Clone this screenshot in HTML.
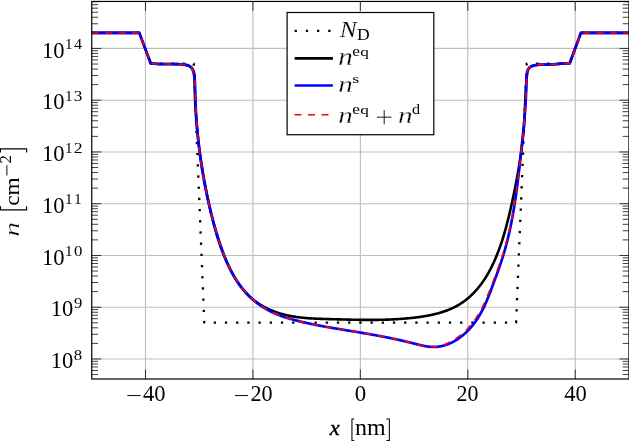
<!DOCTYPE html>
<html><head><meta charset="utf-8"><style>
html,body{margin:0;padding:0;background:#fff;width:629px;height:441px;overflow:hidden;}
svg{display:block;will-change:transform;font-family:"Liberation Serif",serif;}
</style></head><body>
<svg width="629" height="441" viewBox="0 0 629 441"><rect x="0" y="0" width="629" height="441" fill="#fff"/><path d="M145.47 1.45V379.00M252.91 1.45V379.00M360.35 1.45V379.00M467.79 1.45V379.00M575.23 1.45V379.00M91.75 358.98H628.95M91.75 307.22H628.95M91.75 255.47H628.95M91.75 203.71H628.95M91.75 151.95H628.95M91.75 100.20H628.95M91.75 48.44H628.95" stroke="#bfbfbf" stroke-width="1.15" fill="none"/><path d="M145.47 379.00v-9.5M145.47 1.45v9.5M252.91 379.00v-9.5M252.91 1.45v9.5M360.35 379.00v-9.5M360.35 1.45v9.5M467.79 379.00v-9.5M467.79 1.45v9.5M575.23 379.00v-9.5M575.23 1.45v9.5M91.75 374.56h6.3M628.95 374.56h-6.3M91.75 370.46h6.3M628.95 370.46h-6.3M91.75 367.00h6.3M628.95 367.00h-6.3M91.75 364.00h6.3M628.95 364.00h-6.3M91.75 361.35h6.3M628.95 361.35h-6.3M91.75 358.98h9.5M628.95 358.98h-9.5M91.75 343.40h6.3M628.95 343.40h-6.3M91.75 334.29h6.3M628.95 334.29h-6.3M91.75 327.82h6.3M628.95 327.82h-6.3M91.75 322.81h6.3M628.95 322.81h-6.3M91.75 318.71h6.3M628.95 318.71h-6.3M91.75 315.24h6.3M628.95 315.24h-6.3M91.75 312.24h6.3M628.95 312.24h-6.3M91.75 309.59h6.3M628.95 309.59h-6.3M91.75 307.22h9.5M628.95 307.22h-9.5M91.75 291.64h6.3M628.95 291.64h-6.3M91.75 282.53h6.3M628.95 282.53h-6.3M91.75 276.06h6.3M628.95 276.06h-6.3M91.75 271.05h6.3M628.95 271.05h-6.3M91.75 266.95h6.3M628.95 266.95h-6.3M91.75 263.49h6.3M628.95 263.49h-6.3M91.75 260.48h6.3M628.95 260.48h-6.3M91.75 257.84h6.3M628.95 257.84h-6.3M91.75 255.47h9.5M628.95 255.47h-9.5M91.75 239.89h6.3M628.95 239.89h-6.3M91.75 230.77h6.3M628.95 230.77h-6.3M91.75 224.31h6.3M628.95 224.31h-6.3M91.75 219.29h6.3M628.95 219.29h-6.3M91.75 215.19h6.3M628.95 215.19h-6.3M91.75 211.73h6.3M628.95 211.73h-6.3M91.75 208.73h6.3M628.95 208.73h-6.3M91.75 206.08h6.3M628.95 206.08h-6.3M91.75 203.71h9.5M628.95 203.71h-9.5M91.75 188.13h6.3M628.95 188.13h-6.3M91.75 179.02h6.3M628.95 179.02h-6.3M91.75 172.55h6.3M628.95 172.55h-6.3M91.75 167.53h6.3M628.95 167.53h-6.3M91.75 163.44h6.3M628.95 163.44h-6.3M91.75 159.97h6.3M628.95 159.97h-6.3M91.75 156.97h6.3M628.95 156.97h-6.3M91.75 154.32h6.3M628.95 154.32h-6.3M91.75 151.95h9.5M628.95 151.95h-9.5M91.75 136.37h6.3M628.95 136.37h-6.3M91.75 127.26h6.3M628.95 127.26h-6.3M91.75 120.79h6.3M628.95 120.79h-6.3M91.75 115.78h6.3M628.95 115.78h-6.3M91.75 111.68h6.3M628.95 111.68h-6.3M91.75 108.21h6.3M628.95 108.21h-6.3M91.75 105.21h6.3M628.95 105.21h-6.3M91.75 102.57h6.3M628.95 102.57h-6.3M91.75 100.20h9.5M628.95 100.20h-9.5M91.75 84.62h6.3M628.95 84.62h-6.3M91.75 75.50h6.3M628.95 75.50h-6.3M91.75 69.04h6.3M628.95 69.04h-6.3M91.75 64.02h6.3M628.95 64.02h-6.3M91.75 59.92h6.3M628.95 59.92h-6.3M91.75 56.46h6.3M628.95 56.46h-6.3M91.75 53.46h6.3M628.95 53.46h-6.3M91.75 50.81h6.3M628.95 50.81h-6.3M91.75 48.44h9.5M628.95 48.44h-9.5M91.75 32.86h6.3M628.95 32.86h-6.3M91.75 23.75h6.3M628.95 23.75h-6.3M91.75 17.28h6.3M628.95 17.28h-6.3M91.75 12.26h6.3M628.95 12.26h-6.3M91.75 8.17h6.3M628.95 8.17h-6.3M91.75 4.70h6.3M628.95 4.70h-6.3M91.75 1.70h6.3M628.95 1.70h-6.3" stroke="#000" stroke-width="0.75" fill="none"/><path d="M91.75 32.90L139.30 32.90L150.70 63.60L193.70 63.60L204.30 322.70L516.10 322.70L526.70 63.60L569.70 63.60L581.10 32.90L628.95 32.90" stroke="#000" stroke-width="2.3" fill="none" stroke-dasharray="2.3 8.9" stroke-dashoffset="0" stroke-linejoin="round"/><path d="M91.75 32.90L139.30 32.90L150.70 63.30L151.51 63.35L152.31 63.45L153.11 63.54L153.91 63.63L154.70 63.70L155.50 63.76L156.30 63.82L157.09 63.87L157.89 63.91L158.68 63.95L159.48 63.98L160.27 64.00L161.07 64.02L161.86 64.04L162.66 64.05L163.45 64.06L164.25 64.06L165.05 64.06L165.84 64.06L166.64 64.06L167.44 64.06L168.23 64.06L169.03 64.06L169.83 64.06L170.63 64.06L171.43 64.06L172.24 64.06L173.04 64.07L173.84 64.08L174.65 64.09L175.46 64.11L176.27 64.13L177.08 64.16L177.89 64.19L178.70 64.23L179.51 64.28L180.33 64.33L181.15 64.40L181.97 64.47L182.79 64.55L183.62 64.64L184.44 64.74L185.25 64.86L186.05 65.01L186.84 65.19L187.60 65.40L188.33 65.66L189.04 65.96L189.71 66.31L190.33 66.72L190.92 67.18L191.46 67.70L191.95 68.26L192.40 68.87L192.80 69.50L193.16 70.17L193.47 70.87L193.74 71.59L193.96 72.32L194.13 73.07L194.27 73.83L194.38 74.60L194.46 75.38L194.52 76.17L194.55 76.97L194.57 77.77L194.59 78.58L194.59 79.39L194.60 80.20L194.60 81.01L194.61 81.82L194.62 82.62L194.63 83.43L194.64 84.24L194.65 85.05L194.67 85.86L194.68 86.66L194.70 87.47L194.72 88.28L194.73 89.09L194.75 89.89L194.78 90.70L194.80 91.51L194.82 92.31L194.85 93.12L194.87 93.92L194.90 94.73L194.93 95.54L194.95 96.34L194.98 97.15L195.02 97.95L195.05 98.76L195.08 99.56L195.12 100.36L195.15 101.17L195.19 101.97L195.23 102.78L195.27 103.58L195.31 104.38L195.35 105.19L195.39 105.99L195.44 106.79L195.48 107.59L195.53 108.40L195.58 109.20L195.63 110.00L195.68 110.80L195.73 111.60L195.78 112.40L195.83 113.21L195.89 114.01L195.94 114.81L196.00 115.61L196.06 116.41L196.12 117.21L196.18 118.01L196.24 118.81L196.30 119.61L196.36 120.41L196.43 121.21L196.49 122.01L196.56 122.80L196.63 123.60L196.70 124.40L196.77 125.20L196.84 126.00L196.91 126.80L196.99 127.59L197.06 128.39L197.14 129.19L197.21 129.99L197.29 130.78L197.37 131.58L197.45 132.38L197.53 133.17L197.61 133.97L197.69 134.76L197.78 135.56L197.86 136.36L197.95 137.15L198.04 137.95L198.13 138.74L198.22 139.54L198.31 140.33L198.40 141.13L198.49 141.92L198.59 142.71L198.68 143.51L198.78 144.30L198.87 145.09L198.97 145.89L199.07 146.68L199.17 147.47L199.27 148.27L199.38 149.06L199.48 149.85L199.58 150.64L199.69 151.44L199.80 152.23L199.90 153.02L200.01 153.81L200.12 154.60L200.23 155.39L200.34 156.18L200.46 156.98L200.57 157.77L200.68 158.56L200.80 159.35L200.92 160.14L201.04 160.93L201.15 161.72L201.27 162.51L201.39 163.30L201.52 164.08L201.64 164.87L201.76 165.66L201.89 166.45L202.01 167.24L202.14 168.03L202.27 168.82L202.40 169.60L202.53 170.39L202.66 171.18L202.79 171.97L202.92 172.75L203.06 173.54L203.19 174.33L203.33 175.11L203.46 175.90L203.60 176.69L203.74 177.47L203.88 178.26L204.02 179.05L204.16 179.83L204.31 180.62L204.45 181.40L204.59 182.19L204.74 182.97L204.89 183.76L205.03 184.54L205.18 185.33L205.33 186.11L205.48 186.89L205.63 187.68L205.78 188.46L205.94 189.24L206.09 190.03L206.25 190.81L206.40 191.59L206.56 192.38L206.72 193.16L206.88 193.94L207.04 194.72L207.20 195.51L207.36 196.29L207.52 197.07L207.68 197.85L207.85 198.63L208.01 199.41L208.18 200.20L208.35 200.98L208.51 201.76L208.68 202.54L208.85 203.32L209.02 204.10L209.20 204.88L209.37 205.66L209.54 206.44L209.72 207.22L209.89 208.00L210.07 208.78L210.24 209.56L210.42 210.34L210.60 211.11L210.78 211.89L210.96 212.67L211.15 213.45L211.33 214.23L211.51 215.00L211.70 215.78L211.89 216.56L212.08 217.33L212.27 218.11L212.46 218.89L212.65 219.66L212.84 220.44L213.04 221.21L213.24 221.99L213.43 222.76L213.63 223.53L213.84 224.31L214.04 225.08L214.24 225.85L214.45 226.62L214.66 227.39L214.87 228.16L215.08 228.93L215.30 229.70L215.51 230.47L215.73 231.24L215.95 232.01L216.17 232.77L216.40 233.54L216.62 234.30L216.85 235.07L217.08 235.83L217.31 236.60L217.55 237.36L217.78 238.12L218.02 238.88L218.26 239.64L218.51 240.40L218.75 241.16L219.00 241.92L219.25 242.68L219.51 243.43L219.76 244.19L220.02 244.94L220.28 245.70L220.55 246.45L220.82 247.20L221.09 247.96L221.36 248.71L221.63 249.46L221.91 250.20L222.19 250.95L222.47 251.70L222.76 252.44L223.05 253.19L223.34 253.93L223.64 254.67L223.94 255.42L224.24 256.16L224.54 256.90L224.85 257.63L225.16 258.37L225.48 259.11L225.80 259.84L226.12 260.57L226.44 261.31L226.77 262.04L227.10 262.77L227.44 263.50L227.77 264.23L228.12 264.95L228.46 265.68L228.81 266.40L229.16 267.12L229.52 267.84L229.88 268.56L230.24 269.28L230.61 270.00L230.98 270.72L231.36 271.43L231.74 272.14L232.12 272.85L232.51 273.56L232.90 274.27L233.29 274.98L233.69 275.68L234.10 276.38L234.51 277.08L234.92 277.77L235.34 278.46L235.76 279.15L236.19 279.84L236.62 280.52L237.05 281.20L237.50 281.87L237.94 282.54L238.39 283.21L238.85 283.87L239.31 284.53L239.78 285.19L240.25 285.84L240.72 286.48L241.21 287.13L241.69 287.76L242.19 288.39L242.69 289.02L243.19 289.64L243.70 290.25L244.21 290.86L244.74 291.47L245.26 292.06L245.80 292.65L246.34 293.24L246.88 293.82L247.43 294.39L247.99 294.96L248.55 295.52L249.12 296.07L249.70 296.61L250.28 297.15L250.87 297.68L251.47 298.20L252.07 298.72L252.68 299.23L253.29 299.73L253.91 300.22L254.54 300.71L255.17 301.18L255.81 301.66L256.45 302.12L257.10 302.58L257.75 303.03L258.41 303.47L259.08 303.90L259.75 304.33L260.42 304.75L261.10 305.16L261.78 305.57L262.47 305.97L263.17 306.36L263.86 306.75L264.56 307.12L265.27 307.50L265.98 307.86L266.69 308.22L267.41 308.57L268.13 308.91L268.85 309.24L269.58 309.57L270.31 309.90L271.04 310.21L271.78 310.52L272.52 310.82L273.26 311.11L274.01 311.40L274.76 311.68L275.51 311.96L276.26 312.22L277.01 312.48L277.77 312.74L278.53 312.98L279.29 313.22L280.05 313.46L280.82 313.69L281.58 313.91L282.35 314.12L283.12 314.33L283.89 314.53L284.66 314.72L285.44 314.91L286.21 315.09L286.99 315.27L287.77 315.44L288.55 315.61L289.33 315.77L290.11 315.92L290.89 316.07L291.68 316.22L292.46 316.35L293.25 316.49L294.04 316.62L294.82 316.74L295.61 316.86L296.41 316.98L297.20 317.09L297.99 317.19L298.78 317.29L299.58 317.39L300.37 317.49L301.17 317.58L301.96 317.66L302.76 317.75L303.56 317.82L304.36 317.90L305.16 317.97L305.96 318.04L306.76 318.11L307.56 318.17L308.36 318.23L309.17 318.29L309.97 318.34L310.77 318.39L311.58 318.44L312.38 318.49L313.18 318.53L313.99 318.57L314.79 318.61L315.60 318.65L316.40 318.69L317.21 318.72L318.02 318.76L318.82 318.79L319.63 318.82L320.43 318.85L321.24 318.88L322.05 318.90L322.85 318.93L323.66 318.95L324.46 318.98L325.27 319.00L326.07 319.02L326.88 319.05L327.68 319.07L328.49 319.09L329.29 319.11L330.10 319.13L330.90 319.16L331.70 319.18L332.51 319.20L333.31 319.22L334.11 319.25L334.91 319.27L335.72 319.29L336.52 319.31L337.32 319.33L338.12 319.36L338.92 319.38L339.72 319.40L340.52 319.42L341.32 319.44L342.12 319.47L342.92 319.49L343.72 319.51L344.52 319.53L345.31 319.55L346.11 319.57L346.91 319.59L347.71 319.61L348.51 319.63L349.30 319.65L350.10 319.66L350.90 319.68L351.69 319.70L352.49 319.71L353.29 319.73L354.08 319.75L354.88 319.76L355.68 319.78L356.47 319.79L357.27 319.80L358.06 319.82L358.86 319.83L359.65 319.84L360.45 319.85L361.24 319.86L362.04 319.87L362.83 319.88L363.63 319.88L364.42 319.89L365.22 319.90L366.01 319.90L366.81 319.90L367.60 319.91L368.40 319.91L369.19 319.91L369.99 319.91L370.78 319.91L371.58 319.91L372.37 319.90L373.16 319.90L373.96 319.89L374.75 319.89L375.55 319.88L376.34 319.87L377.14 319.86L377.93 319.85L378.73 319.84L379.52 319.82L380.32 319.81L381.11 319.79L381.91 319.77L382.70 319.75L383.50 319.73L384.29 319.71L385.09 319.69L385.88 319.66L386.68 319.64L387.48 319.61L388.27 319.58L389.07 319.55L389.86 319.51L390.66 319.48L391.46 319.44L392.25 319.41L393.05 319.37L393.85 319.33L394.65 319.28L395.44 319.24L396.24 319.19L397.04 319.14L397.84 319.10L398.64 319.04L399.44 318.99L400.23 318.93L401.03 318.88L401.83 318.82L402.63 318.76L403.43 318.69L404.23 318.63L405.03 318.56L405.83 318.49L406.64 318.42L407.44 318.35L408.24 318.27L409.04 318.20L409.84 318.12L410.65 318.03L411.45 317.95L412.25 317.86L413.06 317.78L413.86 317.68L414.67 317.59L415.47 317.50L416.28 317.40L417.08 317.30L417.88 317.19L418.69 317.09L419.49 316.98L420.30 316.86L421.10 316.75L421.90 316.63L422.71 316.50L423.51 316.38L424.31 316.25L425.11 316.11L425.91 315.98L426.70 315.84L427.50 315.69L428.30 315.54L429.09 315.39L429.89 315.23L430.68 315.07L431.47 314.90L432.26 314.73L433.05 314.55L433.83 314.37L434.61 314.19L435.40 314.00L436.18 313.80L436.95 313.60L437.73 313.40L438.50 313.19L439.28 312.97L440.04 312.75L440.81 312.52L441.57 312.28L442.34 312.04L443.10 311.80L443.85 311.55L444.60 311.29L445.35 311.03L446.10 310.76L446.85 310.48L447.59 310.20L448.32 309.91L449.06 309.61L449.79 309.31L450.52 309.00L451.24 308.68L451.96 308.35L452.68 308.02L453.39 307.68L454.10 307.34L454.80 306.98L455.50 306.62L456.20 306.25L456.89 305.87L457.58 305.49L458.26 305.10L458.94 304.69L459.62 304.29L460.29 303.87L460.95 303.44L461.61 303.01L462.27 302.57L462.92 302.12L463.56 301.66L464.21 301.19L464.84 300.72L465.47 300.24L466.10 299.75L466.72 299.25L467.34 298.75L467.95 298.24L468.56 297.73L469.16 297.20L469.75 296.67L470.35 296.14L470.93 295.60L471.51 295.05L472.09 294.49L472.66 293.93L473.23 293.36L473.79 292.79L474.34 292.21L474.89 291.63L475.44 291.04L475.97 290.45L476.51 289.85L477.04 289.24L477.56 288.63L478.08 288.02L478.59 287.40L479.09 286.77L479.59 286.15L480.09 285.51L480.58 284.88L481.06 284.23L481.54 283.59L482.01 282.94L482.48 282.29L482.94 281.63L483.40 280.97L483.85 280.30L484.30 279.63L484.74 278.96L485.17 278.29L485.61 277.61L486.03 276.93L486.45 276.24L486.87 275.55L487.28 274.86L487.69 274.17L488.09 273.47L488.49 272.77L488.88 272.07L489.27 271.36L489.65 270.66L490.03 269.94L490.40 269.23L490.77 268.52L491.14 267.80L491.50 267.08L491.86 266.36L492.21 265.63L492.56 264.91L492.91 264.18L493.25 263.45L493.59 262.72L493.92 261.99L494.26 261.25L494.58 260.52L494.91 259.78L495.23 259.04L495.54 258.30L495.85 257.56L496.16 256.82L496.47 256.07L496.77 255.33L497.07 254.58L497.37 253.84L497.66 253.09L497.95 252.34L498.24 251.60L498.52 250.85L498.80 250.10L499.08 249.35L499.36 248.60L499.63 247.85L499.90 247.09L500.17 246.34L500.43 245.59L500.69 244.83L500.95 244.08L501.21 243.32L501.46 242.56L501.71 241.81L501.96 241.05L502.21 240.29L502.45 239.53L502.69 238.77L502.93 238.01L503.16 237.25L503.40 236.49L503.63 235.73L503.86 234.96L504.09 234.20L504.31 233.44L504.54 232.67L504.76 231.91L504.98 231.14L505.19 230.37L505.41 229.61L505.62 228.84L505.83 228.07L506.04 227.30L506.25 226.54L506.46 225.77L506.66 225.00L506.86 224.23L507.07 223.46L507.26 222.68L507.46 221.91L507.66 221.14L507.85 220.37L508.05 219.60L508.24 218.82L508.43 218.05L508.62 217.27L508.81 216.50L508.99 215.72L509.18 214.95L509.36 214.17L509.55 213.40L509.73 212.62L509.91 211.84L510.09 211.07L510.27 210.29L510.45 209.51L510.63 208.73L510.80 207.95L510.98 207.18L511.15 206.40L511.33 205.62L511.50 204.84L511.67 204.06L511.84 203.28L512.02 202.50L512.19 201.72L512.36 200.93L512.52 200.15L512.69 199.37L512.86 198.59L513.03 197.81L513.19 197.03L513.36 196.24L513.53 195.46L513.69 194.68L513.85 193.89L514.02 193.11L514.18 192.33L514.34 191.54L514.50 190.76L514.66 189.97L514.82 189.19L514.97 188.40L515.13 187.62L515.29 186.83L515.44 186.05L515.60 185.26L515.75 184.47L515.90 183.69L516.05 182.90L516.21 182.11L516.35 181.33L516.50 180.54L516.65 179.75L516.80 178.97L516.94 178.18L517.09 177.39L517.23 176.60L517.38 175.81L517.52 175.02L517.66 174.23L517.80 173.45L517.94 172.66L518.08 171.87L518.21 171.08L518.35 170.29L518.49 169.50L518.62 168.71L518.75 167.92L518.88 167.13L519.01 166.34L519.14 165.54L519.27 164.75L519.40 163.96L519.52 163.17L519.65 162.38L519.77 161.59L519.90 160.80L520.02 160.00L520.14 159.21L520.26 158.42L520.37 157.63L520.49 156.83L520.61 156.04L520.72 155.25L520.83 154.46L520.95 153.66L521.06 152.87L521.16 152.08L521.27 151.28L521.38 150.49L521.48 149.69L521.59 148.90L521.69 148.11L521.79 147.31L521.89 146.52L521.99 145.72L522.09 144.93L522.18 144.13L522.28 143.34L522.37 142.54L522.46 141.75L522.55 140.95L522.64 140.16L522.73 139.36L522.82 138.57L522.90 137.77L522.98 136.98L523.06 136.18L523.15 135.39L523.22 134.59L523.30 133.79L523.38 133.00L523.45 132.20L523.52 131.41L523.59 130.61L523.66 129.81L523.73 129.02L523.80 128.22L523.86 127.42L523.93 126.63L523.99 125.83L524.05 125.03L524.11 124.24L524.17 123.44L524.22 122.64L524.27 121.85L524.33 121.05L524.38 120.25L524.43 119.45L524.47 118.66L524.52 117.86L524.56 117.06L524.60 116.27L524.65 115.47L524.68 114.67L524.72 113.87L524.76 113.08L524.80 112.28L524.83 111.48L524.87 110.68L524.90 109.89L524.93 109.09L524.97 108.29L525.00 107.49L525.03 106.69L525.06 105.90L525.09 105.10L525.12 104.30L525.15 103.50L525.18 102.70L525.22 101.90L525.25 101.11L525.28 100.31L525.31 99.51L525.35 98.71L525.38 97.91L525.41 97.11L525.45 96.31L525.49 95.51L525.52 94.71L525.56 93.92L525.60 93.12L525.64 92.32L525.68 91.52L525.73 90.72L525.77 89.92L525.82 89.12L525.87 88.32L525.92 87.52L525.97 86.72L526.03 85.92L526.08 85.12L526.14 84.31L526.21 83.51L526.27 82.71L526.34 81.91L526.41 81.11L526.48 80.31L526.55 79.51L526.63 78.71L526.71 77.90L526.80 77.10L526.88 76.30L526.97 75.50L527.07 74.70L527.16 73.89L527.27 73.10L527.40 72.31L527.54 71.54L527.73 70.79L527.95 70.08L528.22 69.40L528.55 68.77L528.95 68.18L529.41 67.65L529.94 67.17L530.54 66.75L531.18 66.37L531.88 66.05L532.61 65.77L533.39 65.54L534.19 65.36L535.02 65.20L535.86 65.08L536.72 64.98L537.57 64.91L538.42 64.85L539.27 64.80L540.12 64.76L540.95 64.73L541.79 64.71L542.62 64.69L543.45 64.68L544.27 64.68L545.09 64.67L545.90 64.66L546.71 64.65L547.51 64.64L548.31 64.62L549.11 64.59L549.90 64.56L550.69 64.52L551.48 64.47L552.26 64.42L553.05 64.36L553.83 64.30L554.60 64.23L555.38 64.16L556.16 64.09L556.94 64.02L557.71 63.95L558.49 63.88L559.27 63.81L560.05 63.74L560.83 63.68L561.62 63.61L562.41 63.55L563.20 63.50L564.00 63.45L564.80 63.40L565.60 63.37L566.41 63.34L567.22 63.31L568.05 63.30L568.87 63.29L569.70 63.30L580.90 32.90L628.95 32.90" stroke="#000" stroke-width="2.6" fill="none" stroke-linejoin="round"/><path d="M91.75 32.90L139.30 32.90L150.70 63.30L151.52 63.35L152.30 63.46L153.08 63.56L153.87 63.65L154.65 63.73L155.44 63.80L156.23 63.86L157.02 63.92L157.81 63.96L158.60 64.00L159.39 64.03L160.18 64.05L160.98 64.07L161.78 64.08L162.57 64.09L163.37 64.10L164.17 64.10L164.98 64.10L165.78 64.09L166.58 64.08L167.39 64.08L168.19 64.07L169.00 64.06L169.81 64.05L170.62 64.05L171.43 64.04L172.25 64.04L173.06 64.04L173.88 64.04L174.70 64.05L175.51 64.06L176.33 64.08L177.16 64.10L177.98 64.13L178.80 64.17L179.63 64.21L180.45 64.26L181.28 64.32L182.11 64.39L182.94 64.47L183.77 64.56L184.60 64.66L185.42 64.78L186.22 64.93L186.99 65.12L187.74 65.33L188.46 65.59L189.13 65.89L189.76 66.25L190.34 66.66L190.86 67.13L191.33 67.66L191.75 68.23L192.13 68.84L192.47 69.49L192.77 70.18L193.04 70.89L193.28 71.63L193.50 72.38L193.69 73.15L193.86 73.93L194.01 74.72L194.15 75.50L194.28 76.29L194.40 77.08L194.50 77.87L194.60 78.66L194.68 79.45L194.75 80.25L194.82 81.04L194.88 81.84L194.93 82.63L194.97 83.43L195.01 84.23L195.04 85.03L195.07 85.83L195.10 86.63L195.12 87.43L195.14 88.23L195.16 89.03L195.17 89.83L195.19 90.63L195.21 91.43L195.23 92.23L195.25 93.03L195.27 93.83L195.29 94.63L195.31 95.44L195.33 96.24L195.36 97.04L195.38 97.84L195.41 98.64L195.44 99.44L195.46 100.24L195.49 101.04L195.52 101.84L195.56 102.64L195.59 103.44L195.62 104.24L195.66 105.04L195.69 105.84L195.73 106.64L195.77 107.44L195.81 108.24L195.85 109.04L195.89 109.84L195.93 110.64L195.97 111.44L196.02 112.24L196.06 113.04L196.11 113.84L196.16 114.64L196.21 115.44L196.25 116.24L196.31 117.04L196.36 117.84L196.41 118.64L196.46 119.44L196.52 120.24L196.58 121.04L196.63 121.84L196.69 122.64L196.75 123.44L196.81 124.23L196.87 125.03L196.94 125.83L197.00 126.63L197.06 127.43L197.13 128.23L197.20 129.02L197.26 129.82L197.33 130.62L197.40 131.42L197.48 132.21L197.55 133.01L197.62 133.81L197.70 134.61L197.77 135.40L197.85 136.20L197.93 137.00L198.01 137.79L198.09 138.59L198.17 139.39L198.25 140.18L198.34 140.98L198.42 141.78L198.51 142.57L198.60 143.37L198.68 144.16L198.77 144.96L198.86 145.75L198.96 146.55L199.05 147.34L199.14 148.14L199.24 148.93L199.33 149.73L199.43 150.52L199.53 151.31L199.63 152.11L199.73 152.90L199.83 153.70L199.94 154.49L200.04 155.28L200.15 156.08L200.26 156.87L200.36 157.66L200.47 158.45L200.58 159.25L200.69 160.04L200.81 160.83L200.92 161.62L201.04 162.41L201.15 163.20L201.27 164.00L201.39 164.79L201.51 165.58L201.63 166.37L201.75 167.16L201.88 167.95L202.00 168.74L202.13 169.53L202.25 170.32L202.38 171.11L202.51 171.89L202.64 172.68L202.77 173.47L202.91 174.26L203.04 175.05L203.18 175.84L203.31 176.62L203.45 177.41L203.59 178.20L203.73 178.98L203.87 179.77L204.02 180.56L204.16 181.34L204.31 182.13L204.45 182.92L204.60 183.70L204.75 184.49L204.90 185.27L205.05 186.05L205.20 186.84L205.36 187.62L205.51 188.41L205.67 189.19L205.83 189.97L205.99 190.76L206.15 191.54L206.31 192.32L206.47 193.10L206.63 193.89L206.80 194.67L206.97 195.45L207.13 196.23L207.30 197.01L207.47 197.79L207.64 198.57L207.82 199.35L207.99 200.13L208.17 200.91L208.34 201.69L208.52 202.47L208.70 203.24L208.88 204.02L209.06 204.80L209.25 205.58L209.43 206.35L209.62 207.13L209.80 207.91L209.99 208.68L210.18 209.46L210.37 210.24L210.56 211.01L210.76 211.79L210.95 212.56L211.15 213.33L211.34 214.11L211.54 214.88L211.74 215.65L211.94 216.43L212.15 217.20L212.35 217.97L212.56 218.74L212.76 219.51L212.97 220.29L213.18 221.06L213.39 221.83L213.60 222.60L213.81 223.37L214.03 224.13L214.24 224.90L214.46 225.67L214.68 226.44L214.90 227.21L215.12 227.98L215.34 228.74L215.57 229.51L215.79 230.28L216.02 231.04L216.25 231.81L216.48 232.57L216.71 233.34L216.94 234.10L217.17 234.86L217.41 235.63L217.64 236.39L217.88 237.15L218.12 237.92L218.36 238.68L218.60 239.44L218.84 240.20L219.09 240.96L219.33 241.72L219.58 242.48L219.83 243.24L220.08 244.00L220.33 244.76L220.59 245.51L220.84 246.27L221.10 247.03L221.36 247.78L221.62 248.53L221.89 249.29L222.15 250.04L222.42 250.79L222.70 251.54L222.97 252.29L223.25 253.04L223.53 253.78L223.81 254.53L224.09 255.27L224.38 256.02L224.67 256.76L224.96 257.50L225.26 258.24L225.56 258.97L225.86 259.71L226.17 260.44L226.48 261.17L226.79 261.90L227.11 262.63L227.43 263.36L227.75 264.09L228.08 264.81L228.41 265.53L228.75 266.25L229.09 266.97L229.43 267.68L229.78 268.40L230.13 269.11L230.49 269.82L230.85 270.53L231.21 271.23L231.58 271.93L231.96 272.63L232.33 273.33L232.72 274.03L233.10 274.72L233.50 275.41L233.89 276.10L234.30 276.78L234.70 277.47L235.12 278.15L235.53 278.82L235.96 279.50L236.39 280.17L236.82 280.84L237.26 281.51L237.70 282.17L238.15 282.83L238.61 283.49L239.07 284.14L239.54 284.79L240.01 285.44L240.49 286.08L240.98 286.72L241.47 287.36L241.97 288.00L242.47 288.63L242.98 289.25L243.49 289.88L244.01 290.49L244.54 291.11L245.07 291.72L245.61 292.32L246.15 292.92L246.70 293.52L247.25 294.11L247.81 294.70L248.37 295.28L248.94 295.86L249.51 296.43L250.09 296.99L250.68 297.55L251.26 298.11L251.86 298.66L252.45 299.20L253.06 299.73L253.67 300.26L254.28 300.79L254.89 301.30L255.52 301.82L256.14 302.32L256.77 302.82L257.41 303.31L258.05 303.79L258.69 304.27L259.34 304.73L259.99 305.20L260.65 305.65L261.31 306.10L261.97 306.53L262.64 306.97L263.31 307.39L263.99 307.81L264.66 308.21L265.35 308.62L266.03 309.01L266.73 309.40L267.42 309.78L268.12 310.16L268.82 310.53L269.52 310.89L270.23 311.24L270.94 311.59L271.65 311.94L272.37 312.27L273.09 312.60L273.81 312.93L274.53 313.25L275.26 313.57L275.99 313.87L276.72 314.18L277.46 314.48L278.20 314.77L278.94 315.06L279.68 315.34L280.43 315.62L281.17 315.89L281.92 316.16L282.67 316.43L283.43 316.69L284.18 316.94L284.94 317.19L285.70 317.44L286.46 317.69L287.22 317.93L287.98 318.16L288.75 318.39L289.52 318.62L290.28 318.85L291.05 319.07L291.82 319.29L292.60 319.50L293.37 319.72L294.14 319.93L294.92 320.13L295.69 320.34L296.47 320.54L297.25 320.74L298.03 320.93L298.80 321.13L299.58 321.32L300.36 321.51L301.14 321.70L301.92 321.88L302.71 322.07L303.49 322.25L304.27 322.43L305.05 322.61L305.83 322.78L306.62 322.96L307.40 323.13L308.18 323.30L308.97 323.47L309.75 323.64L310.53 323.81L311.32 323.97L312.10 324.14L312.89 324.30L313.67 324.46L314.46 324.62L315.24 324.78L316.03 324.94L316.82 325.09L317.60 325.25L318.39 325.40L319.18 325.55L319.96 325.70L320.75 325.85L321.54 326.00L322.32 326.15L323.11 326.29L323.90 326.44L324.69 326.58L325.48 326.73L326.26 326.87L327.05 327.01L327.84 327.15L328.63 327.29L329.42 327.43L330.21 327.57L330.99 327.70L331.78 327.84L332.57 327.98L333.36 328.11L334.15 328.25L334.94 328.38L335.73 328.51L336.52 328.65L337.30 328.78L338.09 328.91L338.88 329.04L339.67 329.17L340.46 329.31L341.25 329.44L342.04 329.57L342.83 329.70L343.61 329.82L344.40 329.95L345.19 330.08L345.98 330.21L346.77 330.34L347.55 330.47L348.34 330.60L349.13 330.73L349.92 330.86L350.71 330.98L351.49 331.11L352.28 331.24L353.07 331.37L353.85 331.50L354.64 331.63L355.43 331.76L356.21 331.89L357.00 332.02L357.78 332.15L358.57 332.28L359.35 332.41L360.14 332.54L360.92 332.67L361.71 332.81L362.49 332.94L363.28 333.07L364.06 333.21L364.84 333.34L365.63 333.48L366.41 333.61L367.19 333.75L367.98 333.88L368.76 334.02L369.54 334.16L370.32 334.30L371.11 334.44L371.89 334.57L372.67 334.72L373.45 334.86L374.23 335.00L375.02 335.14L375.80 335.28L376.58 335.43L377.36 335.57L378.14 335.72L378.92 335.87L379.71 336.01L380.49 336.16L381.27 336.31L382.05 336.46L382.83 336.61L383.61 336.76L384.39 336.92L385.18 337.07L385.96 337.22L386.74 337.38L387.52 337.54L388.30 337.69L389.09 337.85L389.87 338.01L390.65 338.17L391.43 338.33L392.21 338.50L393.00 338.66L393.78 338.83L394.56 338.99L395.35 339.16L396.13 339.33L396.91 339.50L397.70 339.67L398.48 339.84L399.26 340.02L400.05 340.19L400.83 340.37L401.62 340.55L402.40 340.73L403.19 340.91L403.98 341.09L404.76 341.27L405.55 341.46L406.33 341.64L407.12 341.83L407.91 342.02L408.70 342.21L409.48 342.40L410.27 342.59L411.06 342.79L411.85 342.98L412.64 343.18L413.43 343.38L414.22 343.58L415.01 343.78L415.80 343.98L416.59 344.18L417.38 344.38L418.18 344.57L418.97 344.77L419.76 344.96L420.55 345.14L421.34 345.32L422.13 345.49L422.92 345.66L423.71 345.82L424.51 345.97L425.30 346.12L426.08 346.25L426.87 346.38L427.66 346.49L428.45 346.59L429.24 346.69L430.03 346.77L430.81 346.83L431.60 346.89L432.38 346.92L433.17 346.95L433.95 346.96L434.73 346.95L435.51 346.92L436.29 346.88L437.07 346.82L437.85 346.74L438.62 346.64L439.40 346.53L440.17 346.40L440.94 346.26L441.71 346.10L442.47 345.92L443.24 345.73L444.00 345.52L444.75 345.30L445.51 345.07L446.26 344.81L447.00 344.55L447.75 344.27L448.49 343.98L449.22 343.68L449.96 343.36L450.68 343.03L451.41 342.69L452.12 342.33L452.84 341.97L453.55 341.59L454.25 341.20L454.95 340.81L455.64 340.40L456.33 339.98L457.01 339.55L457.68 339.11L458.35 338.66L459.01 338.20L459.67 337.74L460.31 337.26L460.96 336.78L461.59 336.29L462.22 335.79L462.84 335.28L463.46 334.77L464.06 334.24L464.67 333.71L465.26 333.18L465.85 332.63L466.43 332.08L467.00 331.52L467.57 330.96L468.13 330.38L468.69 329.81L469.24 329.22L469.78 328.63L470.32 328.03L470.84 327.43L471.37 326.82L471.88 326.21L472.39 325.59L472.90 324.96L473.39 324.34L473.88 323.70L474.37 323.06L474.84 322.42L475.32 321.77L475.78 321.11L476.24 320.46L476.69 319.79L477.14 319.13L477.58 318.46L478.01 317.78L478.44 317.11L478.86 316.43L479.27 315.74L479.68 315.05L480.09 314.36L480.48 313.67L480.87 312.98L481.26 312.28L481.64 311.58L482.01 310.87L482.38 310.17L482.74 309.46L483.10 308.74L483.46 308.03L483.81 307.32L484.15 306.60L484.49 305.88L484.83 305.16L485.16 304.43L485.48 303.70L485.81 302.98L486.13 302.25L486.45 301.52L486.76 300.78L487.07 300.05L487.38 299.31L487.68 298.58L487.98 297.84L488.28 297.10L488.58 296.36L488.87 295.61L489.16 294.87L489.45 294.13L489.74 293.38L490.03 292.64L490.31 291.89L490.60 291.14L490.88 290.40L491.16 289.65L491.44 288.90L491.72 288.15L492.00 287.40L492.28 286.65L492.56 285.90L492.84 285.15L493.12 284.40L493.39 283.65L493.67 282.90L493.95 282.15L494.23 281.40L494.50 280.65L494.78 279.90L495.06 279.15L495.33 278.40L495.61 277.65L495.88 276.90L496.16 276.15L496.43 275.40L496.70 274.65L496.98 273.90L497.25 273.14L497.52 272.39L497.79 271.64L498.06 270.89L498.32 270.13L498.59 269.38L498.85 268.63L499.12 267.87L499.38 267.12L499.64 266.36L499.90 265.61L500.16 264.85L500.41 264.09L500.67 263.34L500.92 262.58L501.17 261.82L501.42 261.06L501.67 260.30L501.92 259.55L502.16 258.79L502.40 258.02L502.64 257.26L502.88 256.50L503.12 255.74L503.35 254.98L503.58 254.21L503.81 253.45L504.04 252.68L504.27 251.92L504.49 251.15L504.71 250.38L504.93 249.62L505.15 248.85L505.36 248.08L505.57 247.31L505.78 246.54L505.99 245.77L506.20 245.00L506.40 244.23L506.61 243.46L506.81 242.68L507.00 241.91L507.20 241.14L507.40 240.36L507.59 239.59L507.78 238.81L507.97 238.04L508.16 237.26L508.34 236.48L508.53 235.71L508.71 234.93L508.89 234.15L509.07 233.37L509.25 232.59L509.42 231.81L509.59 231.03L509.77 230.25L509.94 229.47L510.10 228.69L510.27 227.91L510.44 227.13L510.60 226.34L510.76 225.56L510.92 224.78L511.08 223.99L511.24 223.21L511.39 222.43L511.55 221.64L511.70 220.86L511.85 220.07L512.00 219.28L512.15 218.50L512.30 217.71L512.44 216.92L512.59 216.14L512.73 215.35L512.87 214.56L513.01 213.77L513.15 212.99L513.29 212.20L513.42 211.41L513.56 210.62L513.69 209.83L513.82 209.04L513.95 208.25L514.08 207.46L514.21 206.67L514.34 205.88L514.47 205.09L514.59 204.30L514.72 203.50L514.84 202.71L514.96 201.92L515.08 201.13L515.20 200.34L515.32 199.54L515.44 198.75L515.55 197.96L515.67 197.17L515.78 196.37L515.90 195.58L516.01 194.79L516.12 193.99L516.23 193.20L516.34 192.41L516.45 191.61L516.56 190.82L516.67 190.02L516.77 189.23L516.88 188.44L516.98 187.64L517.09 186.85L517.19 186.05L517.29 185.26L517.39 184.46L517.49 183.67L517.59 182.88L517.69 182.08L517.79 181.29L517.89 180.49L517.99 179.70L518.09 178.90L518.18 178.11L518.28 177.31L518.37 176.52L518.47 175.72L518.56 174.93L518.66 174.14L518.75 173.34L518.84 172.55L518.93 171.75L519.02 170.96L519.12 170.16L519.21 169.37L519.30 168.58L519.39 167.78L519.48 166.99L519.56 166.19L519.65 165.40L519.74 164.61L519.83 163.81L519.92 163.02L520.01 162.23L520.09 161.43L520.18 160.64L520.27 159.85L520.35 159.06L520.44 158.26L520.53 157.47L520.61 156.68L520.70 155.89L520.78 155.10L520.87 154.30L520.95 153.51L521.04 152.72L521.12 151.93L521.21 151.14L521.29 150.35L521.38 149.56L521.46 148.77L521.55 147.98L521.63 147.19L521.72 146.40L521.80 145.61L521.89 144.82L521.97 144.03L522.06 143.25L522.14 142.46L522.22 141.67L522.31 140.88L522.39 140.09L522.47 139.30L522.55 138.51L522.63 137.72L522.72 136.94L522.80 136.15L522.88 135.36L522.96 134.57L523.04 133.78L523.12 132.99L523.19 132.20L523.27 131.41L523.35 130.62L523.43 129.84L523.50 129.05L523.58 128.26L523.66 127.47L523.73 126.68L523.81 125.89L523.88 125.09L523.95 124.30L524.02 123.51L524.10 122.72L524.17 121.93L524.24 121.14L524.31 120.35L524.38 119.55L524.44 118.76L524.51 117.97L524.58 117.17L524.64 116.38L524.71 115.59L524.77 114.79L524.83 114.00L524.90 113.20L524.96 112.40L525.02 111.61L525.08 110.81L525.13 110.01L525.19 109.22L525.25 108.42L525.30 107.62L525.36 106.82L525.41 106.02L525.46 105.22L525.51 104.42L525.56 103.61L525.61 102.81L525.66 102.01L525.71 101.21L525.75 100.40L525.79 99.60L525.84 98.79L525.88 97.98L525.92 97.18L525.96 96.37L526.00 95.56L526.03 94.75L526.07 93.94L526.10 93.13L526.13 92.32L526.16 91.51L526.19 90.69L526.22 89.88L526.25 89.06L526.27 88.25L526.30 87.43L526.32 86.61L526.34 85.79L526.36 84.98L526.38 84.16L526.40 83.33L526.41 82.51L526.42 81.69L526.43 80.86L526.44 80.04L526.45 79.21L526.46 78.39L526.48 77.56L526.50 76.75L526.54 75.94L526.59 75.14L526.66 74.36L526.77 73.59L526.89 72.84L527.06 72.12L527.26 71.41L527.50 70.73L527.79 70.09L528.13 69.47L528.52 68.89L528.97 68.34L529.48 67.84L530.04 67.37L530.66 66.94L531.32 66.55L532.02 66.21L532.76 65.90L533.52 65.64L534.31 65.41L535.12 65.22L535.95 65.05L536.78 64.92L537.62 64.81L538.45 64.73L539.29 64.66L540.13 64.61L540.96 64.58L541.79 64.55L542.62 64.54L543.45 64.54L544.27 64.54L545.09 64.54L545.91 64.55L546.72 64.55L547.53 64.55L548.33 64.55L549.13 64.53L549.93 64.51L550.72 64.48L551.50 64.45L552.29 64.40L553.07 64.35L553.85 64.30L554.63 64.24L555.40 64.18L556.18 64.12L556.95 64.05L557.73 63.99L558.51 63.92L559.28 63.85L560.06 63.78L560.84 63.72L561.63 63.65L562.41 63.59L563.20 63.53L564.00 63.48L564.80 63.43L565.60 63.39L566.41 63.36L567.22 63.33L568.04 63.31L568.87 63.29L569.70 63.30L580.90 32.90L628.95 32.90" stroke="#0000ff" stroke-width="2.7" fill="none" stroke-linejoin="round"/><path d="M91.75 32.90L139.30 32.90L150.70 63.30L151.52 63.35L152.30 63.46L153.08 63.56L153.87 63.65L154.65 63.73L155.44 63.80L156.23 63.86L157.02 63.92L157.81 63.96L158.60 64.00L159.39 64.03L160.18 64.05L160.98 64.07L161.78 64.08L162.57 64.09L163.37 64.10L164.17 64.10L164.98 64.10L165.78 64.09L166.58 64.08L167.39 64.08L168.19 64.07L169.00 64.06L169.81 64.05L170.62 64.05L171.43 64.04L172.25 64.04L173.06 64.04L173.88 64.04L174.70 64.05L175.51 64.06L176.33 64.08L177.16 64.10L177.98 64.13L178.80 64.17L179.63 64.21L180.45 64.26L181.28 64.32L182.11 64.39L182.94 64.47L183.77 64.56L184.60 64.66L185.42 64.78L186.22 64.93L186.99 65.12L187.74 65.33L188.46 65.59L189.13 65.89L189.76 66.25L190.34 66.66L190.86 67.13L191.33 67.66L191.75 68.23L192.13 68.84L192.47 69.49L192.77 70.18L193.04 70.89L193.28 71.63L193.50 72.38L193.69 73.15L193.86 73.93L194.01 74.72L194.15 75.50L194.28 76.29L194.40 77.08L194.50 77.87L194.60 78.66L194.68 79.45L194.75 80.25L194.82 81.04L194.88 81.84L194.93 82.63L194.97 83.43L195.01 84.23L195.04 85.03L195.07 85.83L195.10 86.63L195.12 87.43L195.14 88.23L195.16 89.03L195.17 89.83L195.19 90.63L195.21 91.43L195.23 92.23L195.25 93.03L195.27 93.83L195.29 94.63L195.31 95.44L195.33 96.24L195.36 97.04L195.38 97.84L195.41 98.64L195.44 99.44L195.46 100.24L195.49 101.04L195.52 101.84L195.56 102.64L195.59 103.44L195.62 104.24L195.66 105.04L195.69 105.84L195.73 106.64L195.77 107.44L195.81 108.24L195.85 109.04L195.89 109.84L195.93 110.64L195.97 111.44L196.02 112.24L196.06 113.04L196.11 113.84L196.16 114.64L196.21 115.44L196.25 116.24L196.31 117.04L196.36 117.84L196.41 118.64L196.46 119.44L196.52 120.24L196.58 121.04L196.63 121.84L196.69 122.64L196.75 123.44L196.81 124.23L196.87 125.03L196.94 125.83L197.00 126.63L197.06 127.43L197.13 128.23L197.20 129.02L197.26 129.82L197.33 130.62L197.40 131.42L197.48 132.21L197.55 133.01L197.62 133.81L197.70 134.61L197.77 135.40L197.85 136.20L197.93 137.00L198.01 137.79L198.09 138.59L198.17 139.39L198.25 140.18L198.34 140.98L198.42 141.78L198.51 142.57L198.60 143.37L198.68 144.16L198.77 144.96L198.86 145.75L198.96 146.55L199.05 147.34L199.14 148.14L199.24 148.93L199.33 149.73L199.43 150.52L199.53 151.31L199.63 152.11L199.73 152.90L199.83 153.70L199.94 154.49L200.04 155.28L200.15 156.08L200.26 156.87L200.36 157.66L200.47 158.45L200.58 159.25L200.69 160.04L200.81 160.83L200.92 161.62L201.04 162.41L201.15 163.20L201.27 164.00L201.39 164.79L201.51 165.58L201.63 166.37L201.75 167.16L201.88 167.95L202.00 168.74L202.13 169.53L202.25 170.32L202.38 171.11L202.51 171.89L202.64 172.68L202.77 173.47L202.91 174.26L203.04 175.05L203.18 175.84L203.31 176.62L203.45 177.41L203.59 178.20L203.73 178.98L203.87 179.77L204.02 180.56L204.16 181.34L204.31 182.13L204.45 182.92L204.60 183.70L204.75 184.49L204.90 185.27L205.05 186.05L205.20 186.84L205.36 187.62L205.51 188.41L205.67 189.19L205.83 189.97L205.99 190.76L206.15 191.54L206.31 192.32L206.47 193.10L206.63 193.89L206.80 194.67L206.97 195.45L207.13 196.23L207.30 197.01L207.47 197.79L207.64 198.57L207.82 199.35L207.99 200.13L208.17 200.91L208.34 201.69L208.52 202.47L208.70 203.24L208.88 204.02L209.06 204.80L209.25 205.58L209.43 206.35L209.62 207.13L209.80 207.91L209.99 208.68L210.18 209.46L210.37 210.24L210.56 211.01L210.76 211.79L210.95 212.56L211.15 213.33L211.34 214.11L211.54 214.88L211.74 215.65L211.94 216.43L212.15 217.20L212.35 217.97L212.56 218.74L212.76 219.51L212.97 220.29L213.18 221.06L213.39 221.83L213.60 222.60L213.81 223.37L214.03 224.13L214.24 224.90L214.46 225.67L214.68 226.44L214.90 227.21L215.12 227.98L215.34 228.74L215.57 229.51L215.79 230.28L216.02 231.04L216.25 231.81L216.48 232.57L216.71 233.34L216.94 234.10L217.17 234.86L217.41 235.63L217.64 236.39L217.88 237.15L218.12 237.92L218.36 238.68L218.60 239.44L218.84 240.20L219.09 240.96L219.33 241.72L219.58 242.48L219.83 243.24L220.08 244.00L220.33 244.76L220.59 245.51L220.84 246.27L221.10 247.03L221.36 247.78L221.62 248.53L221.89 249.29L222.15 250.04L222.42 250.79L222.70 251.54L222.97 252.29L223.25 253.04L223.53 253.78L223.81 254.53L224.09 255.27L224.38 256.02L224.67 256.76L224.96 257.50L225.26 258.24L225.56 258.97L225.86 259.71L226.17 260.44L226.48 261.17L226.79 261.90L227.11 262.63L227.43 263.36L227.75 264.09L228.08 264.81L228.41 265.53L228.75 266.25L229.09 266.97L229.43 267.68L229.78 268.40L230.13 269.11L230.49 269.82L230.85 270.53L231.21 271.23L231.58 271.93L231.96 272.63L232.33 273.33L232.72 274.03L233.10 274.72L233.50 275.41L233.89 276.10L234.30 276.78L234.70 277.47L235.12 278.15L235.53 278.82L235.96 279.50L236.39 280.17L236.82 280.84L237.26 281.51L237.70 282.17L238.15 282.83L238.61 283.49L239.07 284.14L239.54 284.79L240.01 285.44L240.49 286.08L240.98 286.72L241.47 287.36L241.97 288.00L242.47 288.63L242.98 289.25L243.49 289.88L244.01 290.49L244.54 291.11L245.07 291.72L245.61 292.32L246.15 292.92L246.70 293.52L247.25 294.11L247.81 294.70L248.37 295.28L248.94 295.86L249.51 296.43L250.09 296.99L250.68 297.55L251.26 298.11L251.86 298.66L252.45 299.20L253.06 299.73L253.67 300.26L254.28 300.79L254.89 301.30L255.52 301.82L256.14 302.32L256.77 302.82L257.41 303.31L258.05 303.79L258.69 304.27L259.34 304.73L259.99 305.20L260.65 305.65L261.31 306.10L261.97 306.53L262.64 306.97L263.31 307.39L263.99 307.81L264.66 308.21L265.35 308.62L266.03 309.01L266.73 309.40L267.42 309.78L268.12 310.16L268.82 310.53L269.52 310.89L270.23 311.24L270.94 311.59L271.65 311.94L272.37 312.27L273.09 312.60L273.81 312.93L274.53 313.25L275.26 313.57L275.99 313.87L276.72 314.18L277.46 314.48L278.20 314.77L278.94 315.06L279.68 315.34L280.43 315.62L281.17 315.89L281.92 316.16L282.67 316.43L283.43 316.69L284.18 316.94L284.94 317.19L285.70 317.44L286.46 317.69L287.22 317.93L287.98 318.16L288.75 318.39L289.52 318.62L290.28 318.85L291.05 319.07L291.82 319.29L292.60 319.50L293.37 319.72L294.14 319.93L294.92 320.13L295.69 320.34L296.47 320.54L297.25 320.74L298.03 320.93L298.80 321.13L299.58 321.32L300.36 321.51L301.14 321.70L301.92 321.88L302.71 322.07L303.49 322.25L304.27 322.43L305.05 322.61L305.83 322.78L306.62 322.96L307.40 323.13L308.18 323.30L308.97 323.47L309.75 323.64L310.53 323.81L311.32 323.97L312.10 324.14L312.89 324.30L313.67 324.46L314.46 324.62L315.24 324.78L316.03 324.94L316.82 325.09L317.60 325.25L318.39 325.40L319.18 325.55L319.96 325.70L320.75 325.85L321.54 326.00L322.32 326.15L323.11 326.29L323.90 326.44L324.69 326.58L325.48 326.73L326.26 326.87L327.05 327.01L327.84 327.15L328.63 327.29L329.42 327.43L330.21 327.57L330.99 327.70L331.78 327.84L332.57 327.98L333.36 328.11L334.15 328.25L334.94 328.38L335.73 328.51L336.52 328.65L337.30 328.78L338.09 328.91L338.88 329.04L339.67 329.17L340.46 329.31L341.25 329.44L342.04 329.57L342.83 329.70L343.61 329.82L344.40 329.95L345.19 330.08L345.98 330.21L346.77 330.34L347.55 330.47L348.34 330.60L349.13 330.73L349.92 330.86L350.71 330.98L351.49 331.11L352.28 331.24L353.07 331.37L353.85 331.50L354.64 331.63L355.43 331.76L356.21 331.89L357.00 332.02L357.78 332.15L358.57 332.28L359.35 332.41L360.14 332.54L360.92 332.67L361.71 332.81L362.49 332.94L363.28 333.07L364.06 333.21L364.84 333.34L365.63 333.48L366.41 333.61L367.19 333.75L367.98 333.88L368.76 334.02L369.54 334.16L370.32 334.30L371.11 334.44L371.89 334.57L372.67 334.72L373.45 334.86L374.23 335.00L375.02 335.14L375.80 335.28L376.58 335.43L377.36 335.57L378.14 335.72L378.92 335.87L379.71 336.01L380.49 336.16L381.27 336.31L382.05 336.46L382.83 336.61L383.61 336.76L384.39 336.92L385.18 337.07L385.96 337.22L386.74 337.38L387.52 337.54L388.30 337.69L389.09 337.85L389.87 338.01L390.65 338.17L391.43 338.33L392.21 338.50L393.00 338.66L393.78 338.83L394.56 338.99L395.35 339.16L396.13 339.33L396.91 339.50L397.70 339.67L398.48 339.84L399.26 340.02L400.05 340.19L400.83 340.37L401.62 340.55L402.40 340.73L403.19 340.91L403.98 341.09L404.76 341.27L405.55 341.46L406.33 341.64L407.12 341.83L407.91 342.02L408.70 342.21L409.48 342.40L410.27 342.59L411.06 342.79L411.85 342.98L412.64 343.18L413.43 343.38L414.22 343.58L415.01 343.78L415.80 343.98L416.59 344.18L417.38 344.38L418.18 344.57L418.97 344.77L419.76 344.96L420.55 345.14L421.34 345.32L422.13 345.49L422.92 345.66L423.71 345.82L424.51 345.97L425.30 346.12L426.08 346.25L426.87 346.38L427.66 346.49L428.45 346.59L429.24 346.69L430.03 346.77L430.81 346.83L431.60 346.89L432.38 346.92L433.17 346.95L433.95 346.96L434.73 346.95L435.51 346.92L436.29 346.88L437.07 346.82L437.85 346.74L438.61 346.57L439.37 346.37L440.13 346.16L440.87 345.93L441.62 345.68L442.35 345.42L443.08 345.15L443.81 344.86L444.53 344.56L445.24 344.25L445.95 343.92L446.65 343.58L447.35 343.23L448.04 342.87L448.72 342.50L449.40 342.11L450.07 341.71L450.74 341.31L451.41 340.90L452.10 340.55L452.78 340.19L453.47 339.81L454.14 339.42L454.81 339.02L455.48 338.62L456.14 338.20L456.80 337.77L457.45 337.34L458.09 336.89L458.73 336.44L459.36 335.98L459.99 335.51L460.60 335.03L461.22 334.54L461.82 334.05L462.42 333.55L463.01 333.04L463.60 332.52L464.18 331.99L464.75 331.46L465.32 330.93L465.88 330.38L466.44 329.83L466.99 329.27L467.53 328.70L468.07 328.13L468.60 327.56L469.12 326.97L469.64 326.38L470.15 325.79L470.65 325.19L471.15 324.58L471.64 323.97L472.13 323.35L472.61 322.73L473.09 322.10L473.55 321.47L474.02 320.83L474.47 320.19L474.92 319.55L475.37 318.90L475.80 318.24L476.24 317.59L476.66 316.92L477.09 316.27L477.52 315.60L477.94 314.94L478.35 314.27L478.76 313.60L479.16 312.92L479.56 312.24L479.95 311.56L480.34 310.88L480.72 310.19L481.09 309.50L481.46 308.80L481.82 308.11L482.18 307.41L482.54 306.70L482.89 306.00L483.24 305.29L483.58 304.58L483.92 303.87L484.25 303.15L484.58 302.44L484.91 301.72L485.23 300.99L485.55 300.27L485.87 299.55L486.19 298.82L486.50 298.09L486.81 297.36L487.11 296.63L487.42 295.90L487.72 295.16L488.02 294.42L488.32 293.69L488.61 292.95L488.91 292.21L489.20 291.47L489.49 290.73L489.78 289.98L490.07 289.24L490.36 288.50L490.65 287.75L490.94 287.01L491.23 286.26L491.51 285.51L491.80 284.77L492.09 284.02L492.37 283.28L492.66 282.53L492.95 281.78L493.23 281.04L493.52 280.29L493.80 279.54L494.09 278.80L494.37 278.05L494.66 277.30L494.94 276.56L495.22 275.81L495.51 275.06L495.79 274.32L496.07 273.57L496.35 272.82L496.62 272.07L496.90 271.32L497.18 270.57L497.45 269.83L497.73 269.08L498.00 268.33L498.27 267.58L498.55 266.83L498.82 266.08L499.09 265.33L499.36 264.58L499.62 263.83L499.89 263.08L500.15 262.32L500.41 261.57L500.67 260.82L500.93 260.06L501.19 259.31L501.44 258.56L501.70 257.80L501.95 257.04L502.19 256.29L502.44 255.53L502.68 254.77L502.92 254.01L503.16 253.25L503.40 252.49L503.64 251.73L503.87 250.97L504.10 250.21L504.33 249.45L504.55 248.68L504.78 247.92L505.00 247.15L505.22 246.39L505.43 245.62L505.65 244.85L505.86 244.09L506.07 243.32L506.28 242.55L506.49 241.78L506.70 241.01L506.90 240.24L507.10 239.47L507.30 238.69L507.50 237.92L507.69 237.15L507.89 236.38L508.08 235.60L508.27 234.83L508.46 234.05L508.64 233.27L508.83 232.50L509.01 231.72L509.19 230.94L509.37 230.17L509.55 229.39L509.72 228.61L509.90 227.83L510.07 227.05L510.24 226.27L510.41 225.49L510.58 224.71L510.74 223.93L510.91 223.14L511.07 222.36L511.23 221.58L511.39 220.80L511.55 220.01L511.71 219.23L511.86 218.44L512.02 217.66L512.17 216.87L512.32 216.09L512.47 215.30L512.62 214.52L512.76 213.73L512.91 212.94L513.05 212.16L513.20 211.37L513.34 210.58L513.48 209.79L513.62 209.00L513.75 208.22L513.89 207.43L514.03 206.64L514.16 205.85L514.29 205.06L514.42 204.27L514.55 203.48L514.68 202.69L514.81 201.90L514.94 201.11L515.06 200.32L515.19 199.52L515.31 198.73L515.43 197.94L515.55 197.15L515.67 196.36L515.79 195.57L515.91 194.77L516.03 193.98L516.14 193.19L516.26 192.39L516.37 191.60L516.49 190.81L516.60 190.02L516.71 189.22L516.82 188.43L516.93 187.64L517.04 186.84L517.15 186.05L517.26 185.25L517.36 184.46L517.47 183.67L517.57 182.87L517.68 182.08L517.78 181.29L517.89 180.49L517.99 179.70L518.09 178.90L518.18 178.11L518.28 177.31L518.37 176.52L518.47 175.72L518.56 174.93L518.66 174.14L518.75 173.34L518.84 172.55L518.93 171.75L519.02 170.96L519.12 170.16L519.21 169.37L519.30 168.58L519.39 167.78L519.48 166.99L519.56 166.19L519.65 165.40L519.74 164.61L519.83 163.81L519.92 163.02L520.01 162.23L520.09 161.43L520.18 160.64L520.27 159.85L520.35 159.06L520.44 158.26L520.53 157.47L520.61 156.68L520.70 155.89L520.78 155.10L520.87 154.30L520.95 153.51L521.04 152.72L521.12 151.93L521.21 151.14L521.29 150.35L521.38 149.56L521.46 148.77L521.55 147.98L521.63 147.19L521.72 146.40L521.80 145.61L521.89 144.82L521.97 144.03L522.06 143.25L522.14 142.46L522.22 141.67L522.31 140.88L522.39 140.09L522.47 139.30L522.55 138.51L522.63 137.72L522.72 136.94L522.80 136.15L522.88 135.36L522.96 134.57L523.04 133.78L523.12 132.99L523.19 132.20L523.27 131.41L523.35 130.62L523.43 129.84L523.50 129.05L523.58 128.26L523.66 127.47L523.73 126.68L523.81 125.89L523.88 125.09L523.95 124.30L524.02 123.51L524.10 122.72L524.17 121.93L524.24 121.14L524.31 120.35L524.38 119.55L524.44 118.76L524.51 117.97L524.58 117.17L524.64 116.38L524.71 115.59L524.77 114.79L524.83 114.00L524.90 113.20L524.96 112.40L525.02 111.61L525.08 110.81L525.13 110.01L525.19 109.22L525.25 108.42L525.30 107.62L525.36 106.82L525.41 106.02L525.46 105.22L525.51 104.42L525.56 103.61L525.61 102.81L525.66 102.01L525.71 101.21L525.75 100.40L525.79 99.60L525.84 98.79L525.88 97.98L525.92 97.18L525.96 96.37L526.00 95.56L526.03 94.75L526.07 93.94L526.10 93.13L526.13 92.32L526.16 91.51L526.19 90.69L526.22 89.88L526.25 89.06L526.27 88.25L526.30 87.43L526.32 86.61L526.34 85.79L526.36 84.98L526.38 84.16L526.40 83.33L526.41 82.51L526.42 81.69L526.43 80.86L526.44 80.04L526.45 79.21L526.46 78.39L526.48 77.56L526.50 76.75L526.54 75.94L526.59 75.14L526.66 74.36L526.77 73.59L526.89 72.84L527.06 72.12L527.26 71.41L527.50 70.73L527.79 70.09L528.13 69.47L528.52 68.89L528.97 68.34L529.48 67.84L530.04 67.37L530.66 66.94L531.32 66.55L532.02 66.21L532.76 65.90L533.52 65.64L534.31 65.41L535.12 65.22L535.95 65.05L536.78 64.92L537.62 64.81L538.45 64.73L539.29 64.66L540.13 64.61L540.96 64.58L541.79 64.55L542.62 64.54L543.45 64.54L544.27 64.54L545.09 64.54L545.91 64.55L546.72 64.55L547.53 64.55L548.33 64.55L549.13 64.53L549.93 64.51L550.72 64.48L551.50 64.45L552.29 64.40L553.07 64.35L553.85 64.30L554.63 64.24L555.40 64.18L556.18 64.12L556.95 64.05L557.73 63.99L558.51 63.92L559.28 63.85L560.06 63.78L560.84 63.72L561.63 63.65L562.41 63.59L563.20 63.53L564.00 63.48L564.80 63.43L565.60 63.39L566.41 63.36L567.22 63.33L568.04 63.31L568.87 63.29L569.70 63.30L580.90 32.90L628.95 32.90" stroke="#ff0000" stroke-width="1.55" fill="none" stroke-dasharray="6.95 6.51" stroke-linejoin="round"/><rect x="91.75" y="1.45" width="537.20" height="377.55" stroke="#000" stroke-width="1.2" fill="none"/><rect x="287.1" y="12.5" width="146.70" height="122.25" stroke="#000" stroke-width="1.2" fill="#fff"/><path d="M294.6 30.9H332.9" stroke="#000" stroke-width="2.3" stroke-dasharray="2.3 8.9"/><path d="M294.6 58.35H332.9" stroke="#000" stroke-width="2.6"/><path d="M294.6 85.55H332.9" stroke="#0000ff" stroke-width="2.6"/><path d="M294.6 114.8H332.9" stroke="#ff0000" stroke-width="1.55" stroke-dasharray="6.95 6.51"/><text transform="translate(339.85,36.83) scale(1.0946,1)" font-family="Liberation Serif" font-size="23.28" font-style="italic" stroke="#fff" stroke-width="0.137" fill="#000">N</text><text transform="translate(357.04,40.12) scale(1.0916,1)" font-family="Liberation Serif" font-size="16.13" fill="#000">D</text><text transform="translate(338.23,64.52) scale(1.1838,1)" font-family="Liberation Serif" font-size="24.52" font-style="italic" stroke="#fff" stroke-width="0.296" fill="#000">n</text><text transform="translate(352.28,56.00) scale(1.1718,1)" font-family="Liberation Serif" font-size="14.76" fill="#000">e</text><text transform="translate(360.33,55.50) scale(1.2883,1)" font-family="Liberation Serif" font-size="13.40" fill="#000">q</text><text transform="translate(338.23,91.62) scale(1.2153,1)" font-family="Liberation Serif" font-size="23.89" font-style="italic" stroke="#fff" stroke-width="0.288" fill="#000">n</text><text transform="translate(352.31,83.02) scale(1.4153,1)" font-family="Liberation Serif" font-size="12.68" fill="#000">s</text><text transform="translate(338.23,122.83) scale(1.2486,1)" font-family="Liberation Serif" font-size="23.25" font-style="italic" stroke="#fff" stroke-width="0.280" fill="#000">n</text><text transform="translate(352.28,114.40) scale(1.1718,1)" font-family="Liberation Serif" font-size="14.76" fill="#000">e</text><text transform="translate(360.33,113.90) scale(1.2883,1)" font-family="Liberation Serif" font-size="13.40" fill="#000">q</text><path d="M376.90 117.20H391.50" stroke="#000" stroke-width="0.9"/><path d="M384.20 110.10V124.30" stroke="#000" stroke-width="0.9"/><text transform="translate(398.02,123.12) scale(1.2474,1)" font-family="Liberation Serif" font-size="23.46" font-style="italic" stroke="#fff" stroke-width="0.281" fill="#000">n</text><text transform="translate(411.97,114.21) scale(1.1147,1)" font-family="Liberation Serif" font-size="14.49" fill="#000">d</text><path d="M127.30 395.55H140.60" stroke="#000" stroke-width="0.95"/><text transform="translate(143.00,401.12) scale(0.9994,1)" font-family="Liberation Serif" font-size="22.52" fill="#000">40</text><path d="M234.95 395.55H248.10" stroke="#000" stroke-width="0.95"/><text transform="translate(250.47,401.03) scale(0.9909,1)" font-family="Liberation Serif" font-size="22.37" fill="#000">20</text><text transform="translate(354.78,401.22) scale(1.0093,1)" font-family="Liberation Serif" font-size="22.67" fill="#000">0</text><text transform="translate(456.58,401.03) scale(0.9836,1)" font-family="Liberation Serif" font-size="22.37" fill="#000">20</text><text transform="translate(564.30,401.12) scale(0.9994,1)" font-family="Liberation Serif" font-size="22.52" fill="#000">40</text><text transform="translate(50.82,368.20) scale(0.9753,1)" font-family="Liberation Serif" font-size="23.11">10</text><text transform="translate(73.71,359.58) scale(1.0974,1)" font-family="Liberation Serif" font-size="15.26" fill="#000">8</text><text transform="translate(50.82,316.44) scale(0.9753,1)" font-family="Liberation Serif" font-size="23.11">10</text><text transform="translate(73.92,307.82) scale(1.0848,1)" font-family="Liberation Serif" font-size="15.33" fill="#000">9</text><text transform="translate(42.07,264.69) scale(0.9753,1)" font-family="Liberation Serif" font-size="23.11">10</text><text transform="translate(65.12,256.02) scale(1.0038,1)" font-family="Liberation Serif" font-size="15.00" fill="#000">1</text><text transform="translate(74.01,256.07) scale(1.0974,1)" font-family="Liberation Serif" font-size="15.26" fill="#000">0</text><text transform="translate(42.07,212.93) scale(0.9753,1)" font-family="Liberation Serif" font-size="23.11">10</text><text transform="translate(65.12,204.26) scale(1.0038,1)" font-family="Liberation Serif" font-size="15.00" fill="#000">1</text><text transform="translate(74.00,204.26) scale(1.0227,1)" font-family="Liberation Serif" font-size="15.00" fill="#000">1</text><text transform="translate(42.07,161.17) scale(0.9753,1)" font-family="Liberation Serif" font-size="23.11">10</text><text transform="translate(65.12,152.50) scale(1.0038,1)" font-family="Liberation Serif" font-size="15.00" fill="#000">1</text><text transform="translate(73.87,152.50) scale(1.1840,1)" font-family="Liberation Serif" font-size="14.95" fill="#000">2</text><text transform="translate(42.07,109.42) scale(0.9753,1)" font-family="Liberation Serif" font-size="23.11">10</text><text transform="translate(65.12,100.75) scale(1.0038,1)" font-family="Liberation Serif" font-size="15.00" fill="#000">1</text><text transform="translate(73.82,100.79) scale(1.1216,1)" font-family="Liberation Serif" font-size="15.33" fill="#000">3</text><text transform="translate(42.07,57.66) scale(0.9753,1)" font-family="Liberation Serif" font-size="23.11">10</text><text transform="translate(65.12,48.99) scale(1.0038,1)" font-family="Liberation Serif" font-size="15.00" fill="#000">1</text><text transform="translate(73.93,48.99) scale(1.0743,1)" font-family="Liberation Serif" font-size="15.05" fill="#000">4</text><text transform="translate(329.72,435.05) scale(1.0644,1)" font-family="Liberation Serif" font-size="21.13" font-style="italic" stroke="#000" stroke-width="0.376" fill="#000">x</text><text transform="translate(354.90,435.15) scale(1.0552,1)" font-family="Liberation Serif" font-size="22.72" fill="#000">nm</text><path d="M354.2 418.9H351.95V440.6H354.2" stroke="#000" stroke-width="1.05" fill="none"/><path d="M386.4 418.9H389.35V440.6H386.4" stroke="#000" stroke-width="1.05" fill="none"/><g transform="rotate(-90)"><text transform="translate(-236.80,19.43) scale(1.3534,1)" font-family="Liberation Serif" font-size="21.97" font-style="italic" stroke="#fff" stroke-width="0.259" fill="#000">n</text></g><g transform="rotate(-90)"><text transform="translate(-205.84,19.04) scale(1.0955,1)" font-family="Liberation Serif" font-size="21.41" fill="#000">cm</text></g><g transform="rotate(-90)"><text transform="translate(-163.39,11.15) scale(1.0635,1)" font-family="Liberation Serif" font-size="15.71" fill="#000">2</text></g><path d="M6.9 165.2V175.5" stroke="#000" stroke-width="0.95"/><path d="M0.5 206.3V209.9H26.6V206.3" stroke="#000" stroke-width="1.1" fill="none"/><path d="M0.5 152.4V148.9H26.6V152.4" stroke="#000" stroke-width="1.1" fill="none"/></svg>
</body></html>
